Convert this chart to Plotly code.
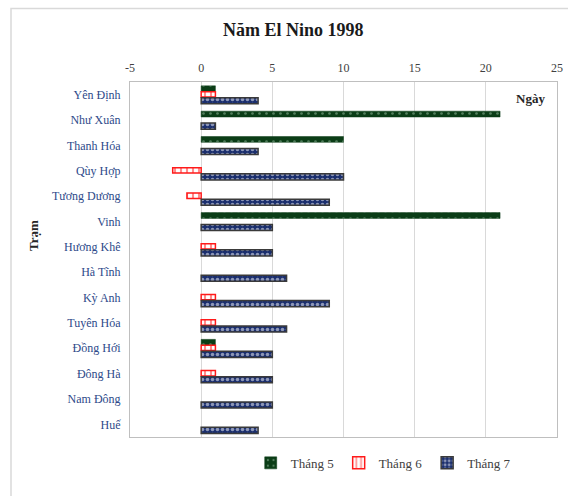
import plotly.graph_objects as go

# Số ngày theo từng trạm, năm El Nino 1998
stations = ["Yên Định", "Như Xuân", "Thanh Hóa", "Qùy Hợp", "Tương Dương", "Vinh",
            "Hương Khê", "Hà Tĩnh", "Kỳ Anh", "Tuyên Hóa", "Đồng Hới", "Đông Hà",
            "Nam Đông", "Huế"]
thang5 = [1, 21, 10, 0, 0, 21, 0, 0, 0, 0, 1, 0, 0, 0]
thang6 = [1, 0, 0, -2, -1, 0, 1, 0, 1, 1, 1, 1, 0, 0]
thang7 = [4, 1, 4, 10, 9, 5, 5, 6, 9, 6, 5, 5, 5, 4]
x_ticks = [-5, 0, 5, 10, 15, 20, 25]
x_tick_text = ["-5", "0", "5", "10", "15", "20", "25"]

SERIF = "Liberation Serif, Times New Roman, serif"


def nz(values):
    # zero-length bars are left undrawn
    return [v if v != 0 else None for v in values]


fig = go.Figure()

fig.add_trace(go.Bar(
    name="Tháng 5", y=stations, x=nz(thang5), orientation="h",
    offset=-0.35, width=0.23,
    marker=dict(color="#0b3d17", line=dict(color="#0b3d17", width=0.5),
                pattern=dict(shape=".", bgcolor="#0b3d17", fgcolor="#9cc2a4",
                             size=7, solidity=0.12)),
))
fig.add_trace(go.Bar(
    name="Tháng 6", y=stations, x=nz(thang6), orientation="h",
    offset=-0.12, width=0.21,
    marker=dict(color="#ff1a1a", line=dict(color="#ff1a1a", width=1.5),
                pattern=dict(shape="|", bgcolor="white", fgcolor="#ff1a1a",
                             size=6, solidity=0.35)),
))
fig.add_trace(go.Bar(
    name="Tháng 7", y=stations, x=nz(thang7), orientation="h",
    offset=0.12, width=0.24,
    marker=dict(color="#1b2f6e", line=dict(color="#3a3a3a", width=1.5),
                pattern=dict(shape=".", bgcolor="#1b2f6e", fgcolor="white",
                             size=5, solidity=0.4)),
))

fig.update_layout(
    width=568, height=496,
    margin=dict(l=130, r=11, t=82, b=59),
    paper_bgcolor="white", plot_bgcolor="white",
    barmode="overlay",
    showlegend=True,
    legend=dict(orientation="h", x=0.593, xanchor="center", y=-0.073, yanchor="middle",
                font=dict(family=SERIF, size=13, color="#404040"),
                itemwidth=30, traceorder="normal"),
    font=dict(family=SERIF),
    xaxis=dict(side="top", range=[-5, 25], tickvals=x_ticks, ticktext=x_tick_text,
               tickfont=dict(family=SERIF, size=12, color="#404040"),
               showgrid=True, gridcolor="#d9d9d9", gridwidth=1,
               zeroline=True, zerolinecolor="#d9d9d9", zerolinewidth=1,
               showline=True, linecolor="#bfbfbf", linewidth=1, mirror=True,
               ticks="", ticklabelstandoff=4, automargin=False, fixedrange=True),
    yaxis=dict(autorange="reversed", type="category",
               tickfont=dict(family=SERIF, size=12, color="#2e4a8a"),
               showline=True, linecolor="#bfbfbf", linewidth=1, mirror=True,
               ticks="", ticklabelstandoff=6, automargin=False, fixedrange=True),
    shapes=[dict(type="rect", xref="paper", yref="paper",
                 x0=-119 / 427, x1=1.2, y0=-0.3, y1=(437 - 8.5) / 355,
                 line=dict(color="#d9d9d9", width=1.5), layer="below")],
    annotations=[
        dict(text="<b>Năm El Nino 1998</b>", xref="paper", yref="paper",
             x=(293 - 130) / 427, y=(437 - 30) / 355, xanchor="center", yanchor="middle",
             showarrow=False, font=dict(family=SERIF, size=18, color="#1a1a1a")),
        dict(text="<b>Ngày</b>", xref="paper", yref="paper",
             x=(530 - 130) / 427, y=(437 - 98) / 355, xanchor="center", yanchor="middle",
             showarrow=False, font=dict(family=SERIF, size=13, color="#262626")),
        dict(text="<b>Trạm</b>", xref="paper", yref="paper",
             x=(33 - 130) / 427, y=(437 - 236) / 355, xanchor="center", yanchor="middle",
             textangle=-90, showarrow=False,
             font=dict(family=SERIF, size=13, color="#262626")),
    ],
)

fig.write_html("out.html")
